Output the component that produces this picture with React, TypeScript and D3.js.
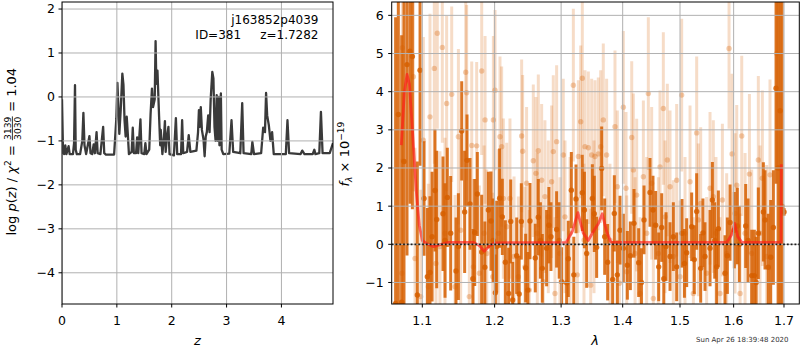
import React from 'react';
import * as d3 from 'd3';

// ---- p(z) curve (left panel)
const pzZ = [0.0, 0.01, 0.02, 0.04, 0.06, 0.08, 0.12, 0.14, 0.2, 0.22, 0.237, 0.25, 0.27, 0.33, 0.37, 0.39, 0.41, 0.44, 0.47, 0.5, 0.52, 0.55, 0.577, 0.6, 0.63, 0.65, 0.7, 0.75, 0.77, 0.8, 0.95, 0.99, 1.01, 1.03, 1.045, 1.07, 1.1, 1.12, 1.14, 1.16, 1.18, 1.2, 1.22, 1.27, 1.29, 1.31, 1.35, 1.37, 1.39, 1.43, 1.45, 1.5, 1.52, 1.54, 1.59, 1.615, 1.64, 1.66, 1.69, 1.706, 1.72, 1.74, 1.77, 1.79, 1.8, 1.83, 1.86, 1.876, 1.89, 1.91, 1.94, 1.96, 2.04, 2.076, 2.1, 2.17, 2.19, 2.21, 2.28, 2.31, 2.34, 2.45, 2.48, 2.496, 2.51, 2.53, 2.55, 2.58, 2.6, 2.62, 2.64, 2.665, 2.69, 2.71, 2.74, 2.76, 2.78, 2.8, 2.82, 2.84, 2.86, 2.87, 2.896, 2.91, 2.94, 3.05, 3.09, 3.12, 3.25, 3.285, 3.31, 3.45, 3.47, 3.5, 3.63, 3.667, 3.7, 3.72, 3.74, 3.77, 3.8, 3.83, 3.86, 4.08, 4.11, 4.14, 4.35, 4.38, 4.42, 4.57, 4.6, 4.62, 4.69, 4.72, 4.75, 4.88, 4.94];
const pzLog = [-0.05, -0.7, -1.28, -1.3, -1.1, -1.3, -1.12, -1.3, -1.3, -1.05, 0.27, -1.2, -1.3, -1.3, -1.0, -0.36, -1.1, -1.3, -1.1, -0.89, -1.28, -1.3, -1.08, -1.28, -0.8, -1.28, -1.3, -0.68, -1.28, -1.31, -1.31, -0.5, 0.32, -0.3, -0.84, -0.3, 0.53, 0.28, -0.53, -0.9, -0.45, -0.85, -1.3, -1.25, -0.7, -1.28, -1.28, -0.92, -1.28, -0.51, -1.28, -1.3, -1.05, -1.3, -1.2, -0.38, 0.19, -0.23, -0.05, 1.27, 0.3, 0.6, -0.45, -1.1, -0.75, -1.3, -0.9, -0.55, -1.25, -0.95, -0.68, -1.3, -1.33, -0.48, -1.3, -1.3, -0.53, -1.28, -1.25, -0.87, -1.25, -1.22, -0.8, -0.3, -0.68, -0.23, -0.75, -0.97, -1.35, -0.9, -0.8, -0.42, -0.8, -0.06, 0.57, 0.42, -0.68, -1.0, 0.04, -1.0, 0.0, -1.1, 0.08, -1.2, -1.3, -1.29, -0.53, -1.25, -1.28, -0.14, -1.28, -1.3, -1.02, -1.3, -1.28, -0.7, -0.8, 0.09, -0.42, -0.64, -1.0, -0.8, -1.3, -1.3, -0.53, -1.28, -1.3, -1.22, -1.3, -1.3, -1.2, -1.3, -1.28, -0.34, -1.28, -1.28, -1.05];

// ---- spectrum (right panel): dark series
const darkLam = [1.0652, 1.0687, 1.073, 1.076, 1.0799, 1.0838, 1.0869, 1.0934, 1.097, 1.1023, 1.1067, 1.1102, 1.1169, 1.1192, 1.1277, 1.1336, 1.1382, 1.1488, 1.1534, 1.1575, 1.1608, 1.165, 1.1716, 1.1753, 1.1815, 1.191, 1.1948, 1.2011, 1.203, 1.2073, 1.2112, 1.2156, 1.2205, 1.2264, 1.2323, 1.2392, 1.2457, 1.2522, 1.2602, 1.2648, 1.2709, 1.2775, 1.2842, 1.293, 1.3008, 1.3087, 1.3113, 1.3161, 1.3235, 1.3336, 1.3406, 1.3498, 1.3568, 1.365, 1.3749, 1.3832, 1.386, 1.3955, 1.4011, 1.4079, 1.4192, 1.4272, 1.4364, 1.4468, 1.4567, 1.462, 1.4673, 1.475, 1.4821, 1.494, 1.5036, 1.5121, 1.5212, 1.5304, 1.5378, 1.5458, 1.5552, 1.5596, 1.5677, 1.5709, 1.5835, 1.5931, 1.6014, 1.6072, 1.6234, 1.6352, 1.6404, 1.6483, 1.6583, 1.6616, 1.673, 1.6784, 1.6838, 1.688, 1.692, 1.696, 1.7001,
  1.113, 1.1305, 1.1455, 1.169, 1.186, 1.198, 1.2235, 1.236, 1.249, 1.268, 1.281, 1.297, 1.32, 1.337, 1.353, 1.37, 1.391, 1.413, 1.432, 1.452, 1.471, 1.488, 1.508, 1.526, 1.542, 1.564, 1.588, 1.611, 1.628, 1.644, 1.668];
const darkFlux = [-1.55, 3.4, -1.52, 2.17, 4.71, 5.06, 4.92, -1.33, 4.56, 1.2, -0.85, -0.74, 1.41, 0.65, 0.8, 1.23, 0.29, -0.06, 2.97, 0.85, 2.2, 1.06, 0.31, 1.32, -0.2, 0.9, 0.61, -1.27, -0.06, 1.21, 0.72, -0.47, -1.29, -1.46, -0.3, 0.6, -0.62, 0.61, -0.36, 0.71, -0.63, -0.1, 0.2, 0.39, -0.98, -1.01, -0.38, 1.42, 1.19, 1.35, -0.24, 1.2, -0.08, 1.99, -0.47, -0.92, 0.81, 0.37, -0.1, -0.55, 0.55, -0.48, 0.64, 1.36, 0.5, -0.59, 0.44, -0.06, -0.32, -0.59, 0.29, -0.22, 0.46, 0.86, -0.63, -0.32, -0.1, 1.16, -0.59, 0.41, -0.76, 0.57, 0.37, 0.48, 0.48, -0.82, -0.82, 0.29, 0.85, 0.64, -0.34, 0.44, 4.09, 2.0, 3.5, 1.0, 0.85,
  0.2, 0.1, -0.7, -0.9, -0.6, 0.1, 0.6, -1.3, -1.2, 0.1, 0.5, 0.1, -0.8, 0.9, 0.8, 0.2, -0.8, -0.3, -1.0, 0.9, -0.9, 0.2, -0.5, -0.4, 0.3, 0.1, -0.3, 0.0, 0.1, -1.0, -0.6];
const darkErr = [7.5, 6, 7, 5, 5, 4, 4, 3.5, 2.5, 1.5, 1.8, 2.0, 1.6, 1.8, 1.5, 1.3, 1.5, 1.4, 1.3, 1.6, 1.2, 1.2, 1.4, 1.1, 1.5, 1.0, 1.3, 1.0, 1.2, 1.3, 1.0, 1.1, 1.2, 1.0, 1.0, 1.0, 0.9, 1.0, 0.9, 1.0, 0.9, 1.0, 0.9, 1.0, 0.9, 1.0, 1.0, 1.0, 0.9, 1.0, 0.9, 0.9, 0.8, 1.1, 1.0, 1.0, 1.0, 0.9, 0.9, 0.9, 0.9, 0.9, 0.9, 0.9, 0.9, 0.9, 0.9, 0.9, 0.9, 0.9, 0.9, 0.9, 0.9, 1.0, 0.9, 0.9, 1.0, 1.0, 1.0, 1.0, 1.0, 1.0, 1.0, 1.0, 1.1, 1.2, 1.2, 1.2, 1.3, 1.3, 1.5, 1.5, 2.5, 8, 9, 9, 0.1,
  1.7, 1.5, 1.4, 1.3, 1.2, 1.1, 1.1, 1.0, 1.0, 1.0, 1.0, 1.0, 1.0, 1.0, 1.0, 1.0, 0.9, 0.9, 0.9, 0.9, 0.9, 0.9, 0.9, 0.9, 0.9, 1.0, 1.0, 1.0, 1.1, 1.2, 1.4];

// ---- light series
const lightLam = [1.0739, 1.0882, 1.1014, 1.1102, 1.116, 1.12, 1.1268, 1.1327, 1.1396, 1.1488, 1.159, 1.1603, 1.1674, 1.1744, 1.1815, 1.1863, 1.1982, 1.2006, 1.2078, 1.2102, 1.2127, 1.2224, 1.2397, 1.2412, 1.2471, 1.2572, 1.2612, 1.2648, 1.2699, 1.2749, 1.2852, 1.2878, 1.293, 1.3034, 1.3193, 1.3273, 1.331, 1.3336, 1.3379, 1.3433, 1.3487, 1.3541, 1.3595, 1.3634, 1.3677, 1.3732, 1.3871, 1.391, 1.4011, 1.4056, 1.4153, 1.4181, 1.4238, 1.4353, 1.4439, 1.4497, 1.4643, 1.4702, 1.4773, 1.4821, 1.494, 1.503, 1.5182, 1.5304, 1.5378, 1.5552, 1.5614, 1.5785, 1.5912, 1.597, 1.606, 1.6157, 1.6307, 1.6483, 1.6563, 1.6716, 1.685,
  1.0733, 1.0904, 1.0979, 1.108, 1.1182, 1.1236, 1.1304, 1.1442, 1.152, 1.164, 1.1697, 1.1782, 1.1849, 1.1887, 1.1973, 1.2054, 1.2176, 1.2284, 1.2348, 1.2446, 1.2511, 1.2633, 1.2724, 1.2801, 1.2904, 1.2982, 1.3061, 1.314, 1.3257, 1.3363, 1.3471, 1.3525, 1.3787, 1.3944, 1.4068, 1.421, 1.4296, 1.441, 1.4526, 1.4614, 1.4732, 1.488, 1.5, 1.5091, 1.5243, 1.5335, 1.5489, 1.5664, 1.574, 1.5867, 1.6027, 1.6125, 1.6222, 1.6352, 1.6516, 1.6649];
const lightFlux = [5.15, 4.39, 2.73, 3.34, 4.61, 5.53, 5.16, 3.69, 3.93, 2.82, 4.51, 3.97, 2.59, 2.58, 4.54, 3.26, 3.26, 4.04, 2.82, 2.56, 1.2, 1.2, 2.84, 2.44, 1.6, 2.19, 1.86, 2.45, 1.68, 1.25, 1.64, 2.43, 2.69, 2.34, 4.17, 2.3, 3.21, 4.35, 2.56, 2.53, 2.34, 2.3, 2.37, 2.56, 3.26, 2.34, 3.08, 1.51, 3.59, 1.47, 2.8, 1.95, 1.29, 1.77, 3.95, 1.6, 2.03, 3.56, 2.21, 1.51, 1.68, 3.91, 1.64, 2.92, 1.07, 1.47, 1.25, 1.16, 5.13, 2.37, 1.55, 2.84, 1.84, 2.21, 1.73, 1.82, 5.0,
  -0.76, -0.37, -1.37, -1.11, -0.5, -0.06, 0.29, -1.11, 0.37, -1.37, -0.59, -0.76, 0.29, -0.24, -0.85, 0.29, 0.46, -0.32, -0.85, -0.59, -1.2, 0.29, -0.98, 0.72, -1.29, -0.24, 0.72, 0.29, -0.8, 0.11, -1.07, 0.72, 0.11, -1.02, -0.72, -0.24, -1.29, 0.29, -1.42, -0.24, 0.72, -0.32, -0.85, 0.29, -1.29, 0.64, -0.76, 0.29, -1.29, -0.24, 0.81, -1.29, 0.29, -0.24, 0.29, -0.32];
const lightErr = [3.0, 3.0, 2.7, 2.7, 2.5, 2.5, 2.5, 2.3, 2.3, 2.3, 2.3, 2.3, 2.2, 2.2, 2.2, 2.2, 2.2, 2.1, 2.1, 2.1, 2.1, 2.1, 2.0, 2.0, 2.0, 2.0, 2.0, 2.0, 2.0, 2.0, 2.0, 2.0, 2.0, 2.0, 2.0, 2.0, 2.0, 2.0, 2.0, 2.0, 2.0, 2.0, 2.0, 2.0, 2.0, 2.0, 2.0, 2.0, 2.0, 2.0, 2.0, 2.0, 2.0, 2.0, 2.0, 2.0, 2.0, 2.0, 2.0, 2.0, 2.0, 2.0, 2.0, 2.0, 2.0, 2.0, 2.0, 2.0, 2.1, 2.1, 2.1, 2.1, 2.1, 2.2, 2.3, 2.5, 3.0,
  3.0, 2.9, 2.8, 2.7, 2.5, 2.5, 2.5, 2.4, 2.4, 2.3, 2.3, 2.3, 2.3, 2.2, 2.2, 2.2, 2.2, 2.1, 2.1, 2.1, 2.1, 2.1, 2.0, 2.0, 2.0, 2.0, 2.0, 2.0, 2.0, 2.0, 2.0, 2.0, 2.0, 2.0, 2.0, 2.0, 2.0, 2.0, 2.0, 2.0, 2.0, 2.0, 2.0, 2.0, 2.0, 2.0, 2.0, 2.0, 2.0, 2.1, 2.1, 2.1, 2.1, 2.2, 2.3, 2.4];

// ---- model (red)
const modelLam = [1.0725, 1.0765, 1.08, 1.083, 1.087, 1.092, 1.096, 1.1, 1.105, 1.115, 1.125, 1.135, 1.17, 1.178, 1.185, 1.192, 1.2, 1.308, 1.318, 1.3265, 1.335, 1.343, 1.352, 1.36, 1.366, 1.373, 1.38, 1.385, 1.587, 1.596, 1.602, 1.608, 1.616, 1.694, 1.6945];
const modelFlux = [2.6, 4.0, 4.45, 4.2, 3.0, 1.4, 0.5, 0.1, 0.03, -0.06, 0.0, 0.05, 0.05, -0.03, -0.18, -0.05, 0.04, 0.05, 0.35, 0.83, 0.3, 0.1, 0.35, 0.55, 0.8, 0.35, 0.06, 0.05, 0.05, 0.25, 0.55, 0.2, 0.05, 0.05, 2.1];

const zTicks = [0, 1, 2, 3, 4];
const pTicks = [-4, -3, -2, -1, 0, 1, 2];
const lamTicks = [1.1, 1.2, 1.3, 1.4, 1.5, 1.6, 1.7];
const fTicks = [-1, 0, 1, 2, 3, 4, 5, 6];

const FONT = 'DejaVu Sans';
const ORANGE = '#d65f00';
const fmt = (v: number) => (v < 0 ? '\u2212' + Math.abs(v) : String(v));

export default function App() {
  const L = { x0: 62, x1: 333, y0: 2, y1: 304 };
  const R = { x0: 391.7, x1: 799.3, y0: 2, y1: 304 };
  const xz = d3.scaleLinear().domain([0, 4.94]).range([L.x0, L.x1]);
  const yz = d3.scaleLinear().domain([-4.71, 2.16]).range([L.y1, L.y0]);
  const xl = d3.scaleLog().domain([1.0602, 1.7316]).range([R.x0, R.x1]);
  const yf = d3.scaleLinear().domain([-1.564, 6.35]).range([R.y1, R.y0]);

  const pzLine = d3.line<number>().x((_, i) => xz(pzZ[i])).y((d) => yz(d))(pzLog) || '';
  const modelLine = d3.line<number>().x((_, i) => xl(modelLam[i])).y((d) => yf(d))(modelFlux) || '';

  const grid = '#b0b0b0';
  return (
    <svg width={800} height={350} style={{ position: 'absolute', left: 0, top: 0, background: '#fff' }} fontFamily={FONT}>
      <defs>
        <clipPath id="clipL"><rect x={L.x0} y={L.y0} width={L.x1 - L.x0} height={L.y1 - L.y0} /></clipPath>
        <clipPath id="clipR"><rect x={R.x0} y={R.y0} width={R.x1 - R.x0} height={R.y1 - R.y0} /></clipPath>
      </defs>
      <rect x={0} y={0} width={800} height={350} fill="#fff" />

      {/* LEFT PANEL */}
      <g clipPath="url(#clipL)">
        <path d={pzLine} fill="none" stroke="#3a3a3a" strokeWidth={2.3} strokeLinejoin="round" />
        {zTicks.map((t) => <line key={'gz' + t} x1={xz(t)} x2={xz(t)} y1={L.y0} y2={L.y1} stroke={grid} strokeWidth={1} />)}
        {pTicks.map((t) => <line key={'gp' + t} x1={L.x0} x2={L.x1} y1={yz(t)} y2={yz(t)} stroke={grid} strokeWidth={1} />)}
      </g>
      <rect x={L.x0} y={L.y0} width={L.x1 - L.x0} height={L.y1 - L.y0} fill="none" stroke="#000" strokeWidth={1} />
      {zTicks.map((t) => (
        <g key={'tz' + t}>
          <line x1={xz(t)} x2={xz(t)} y1={L.y1} y2={L.y1 + 3.5} stroke="#000" />
          <text x={xz(t)} y={325} fontSize={12.5} textAnchor="middle">{fmt(t)}</text>
        </g>
      ))}
      {pTicks.map((t) => (
        <g key={'tp' + t}>
          <line x1={L.x0 - 3.5} x2={L.x0} y1={yz(t)} y2={yz(t)} stroke="#000" />
          <text x={L.x0 - 7} y={yz(t) + 4.4} fontSize={12.5} textAnchor="end">{fmt(t)}</text>
        </g>
      ))}
      <text x={318.5} y={24} fontSize={12} textAnchor="end">j163852p4039</text>
      <text x={318.5} y={39} fontSize={12} textAnchor="end" style={{ whiteSpace: 'pre' }}>{'ID=381     z=1.7282'}</text>
      <text x={197.5} y={345} fontSize={13} textAnchor="middle" fontStyle="italic">z</text>
      <g transform="translate(16,235.5) rotate(-90)">
        <text x={0} y={0} fontSize={13} style={{ whiteSpace: 'pre' }}>
          <tspan>log </tspan>
          <tspan fontStyle="italic">p</tspan>
          <tspan>(</tspan>
          <tspan fontStyle="italic">z</tspan>
          <tspan>) / </tspan>
          <tspan fontStyle="italic">χ</tspan>
          <tspan fontSize={9.1} dy={-5.5}>2</tspan>
          <tspan dy={5.5}> = </tspan>
        </text>
        <text x={107.2} y={-5.2} fontSize={9.1} textAnchor="middle">3139</text>
        <text x={107.2} y={4.6} fontSize={9.1} textAnchor="middle">3030</text>
        <line x1={95.3} x2={119.1} y1={-3.6} y2={-3.6} stroke="#000" strokeWidth={0.8} />
        <text x={119.5} y={0} fontSize={13} style={{ whiteSpace: 'pre' }}>{' = 1.04'}</text>
      </g>

      {/* RIGHT PANEL */}
      <g clipPath="url(#clipR)">
        {lightLam.map((l, i) => (
          <line key={'lb' + i} x1={xl(l)} x2={xl(l)} y1={yf(lightFlux[i] - lightErr[i])} y2={yf(lightFlux[i] + lightErr[i])} stroke={ORANGE} strokeOpacity={0.22} strokeWidth={3} />
        ))}
        {lightLam.map((l, i) => (
          <circle key={'lc' + i} cx={xl(l)} cy={yf(lightFlux[i])} r={2.7} fill={ORANGE} fillOpacity={0.3} />
        ))}
        {darkLam.map((l, i) => (
          <line key={'db' + i} x1={xl(l)} x2={xl(l)} y1={yf(darkFlux[i] - darkErr[i])} y2={yf(darkFlux[i] + darkErr[i])} stroke={ORANGE} strokeOpacity={0.85} strokeWidth={3} />
        ))}
        {darkLam.map((l, i) => (
          <circle key={'dc' + i} cx={xl(l)} cy={yf(darkFlux[i])} r={2.7} fill={ORANGE} fillOpacity={0.85} />
        ))}
        <path d={modelLine} fill="none" stroke="#ff1a1a" strokeOpacity={0.65} strokeWidth={2.8} strokeLinejoin="round" />
        {lamTicks.map((t) => <line key={'gl' + t} x1={xl(t)} x2={xl(t)} y1={R.y0} y2={R.y1} stroke={grid} strokeWidth={1} />)}
        {fTicks.map((t) => <line key={'gf' + t} x1={R.x0} x2={R.x1} y1={yf(t)} y2={yf(t)} stroke={grid} strokeWidth={1} />)}
        <line x1={R.x0} x2={R.x1} y1={yf(0)} y2={yf(0)} stroke="#000" strokeWidth={1.8} strokeDasharray="1.8,2" strokeOpacity={0.85} />
      </g>
      <rect x={R.x0} y={R.y0} width={R.x1 - R.x0} height={R.y1 - R.y0} fill="none" stroke="#000" strokeWidth={1} />
      {lamTicks.map((t) => (
        <g key={'tl' + t}>
          <line x1={xl(t)} x2={xl(t)} y1={R.y1} y2={R.y1 + 3.5} stroke="#000" />
          <text x={xl(t)} y={325} fontSize={12.5} textAnchor="middle">{t.toFixed(1)}</text>
        </g>
      ))}
      {fTicks.map((t) => (
        <g key={'tf' + t}>
          <line x1={R.x0 - 3.5} x2={R.x0} y1={yf(t)} y2={yf(t)} stroke="#000" />
          <text x={R.x0 - 8} y={yf(t) + 4.4} fontSize={12.5} textAnchor="end">{fmt(t)}</text>
        </g>
      ))}
      <text x={595} y={345} fontSize={13} textAnchor="middle" fontStyle="italic">λ</text>
      <g transform="translate(349,186.5) rotate(-90)">
        <text x={0} y={0} fontSize={13} style={{ whiteSpace: 'pre' }}>
          <tspan fontStyle="italic">f</tspan>
          <tspan fontSize={9.1} dy={3} fontStyle="italic">λ</tspan>
          <tspan dy={-3}>{' × 10'}</tspan>
          <tspan fontSize={9.1} dy={-5.5}>{'\u221219'}</tspan>
        </text>
      </g>
      <text x={696} y={342} fontSize={7} fill="#333">Sun Apr 26 18:39:48 2020</text>
    </svg>
  );
}
